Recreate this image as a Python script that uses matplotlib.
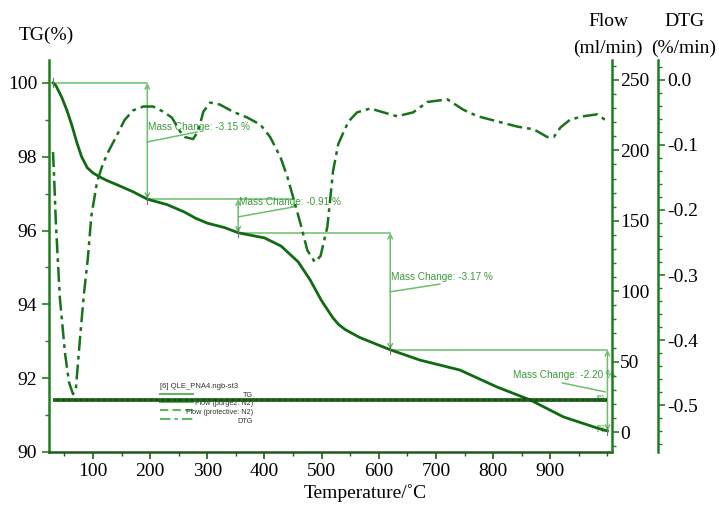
import matplotlib
matplotlib.use("Agg")
import matplotlib.pyplot as plt
from matplotlib.ticker import MultipleLocator

# ---------------- data ----------------
tg_temp = [30, 35, 45, 54, 63, 72, 80, 90, 100, 112, 125, 142, 170, 195, 230, 260,
           280, 300, 330, 354, 380, 400, 429, 459, 480, 499, 510, 520, 530, 541, 555,
           567, 599, 620, 672, 742, 807, 865, 923, 988, 1000]
tg_val = [100.0, 99.93, 99.62, 99.27, 98.85, 98.37, 98.0, 97.7, 97.56, 97.45, 97.35,
          97.24, 97.05, 96.85, 96.7, 96.5, 96.33, 96.2, 96.08, 95.94, 95.86, 95.8,
          95.58, 95.15, 94.66, 94.12, 93.86, 93.63, 93.45, 93.32, 93.2, 93.1, 92.9,
          92.77, 92.49, 92.22, 91.76, 91.41, 90.95, 90.62, 90.57]

dtg_temp = [30, 32, 35, 42, 51, 58, 65, 70, 77, 84, 91, 97, 107, 117, 127, 142, 155,
            170, 188, 205, 223, 238, 252, 261, 275, 284, 293, 305, 322, 345, 370,
            393, 410, 428, 440, 450, 463, 475, 488, 498, 510, 520, 529, 538, 547,
            562, 585, 608, 632, 660, 685, 720, 748, 773, 808, 843, 871, 895, 906,
            918, 935, 958, 982, 1000]
dtg_val = [-0.111, -0.15, -0.22, -0.335, -0.42, -0.465, -0.483, -0.475, -0.40, -0.33,
           -0.274, -0.21, -0.157, -0.13, -0.11, -0.085, -0.062, -0.047, -0.041,
           -0.041, -0.049, -0.058, -0.079, -0.088, -0.091, -0.079, -0.049, -0.035,
           -0.038, -0.049, -0.058, -0.069, -0.088, -0.119, -0.149, -0.180, -0.221,
           -0.262, -0.28, -0.271, -0.226, -0.14, -0.099, -0.081, -0.064, -0.050,
           -0.044, -0.050, -0.056, -0.050, -0.034, -0.030, -0.046, -0.056, -0.064,
           -0.072, -0.076, -0.088, -0.088, -0.073, -0.061, -0.056, -0.053, -0.064]

flow_temp = [30, 1000]
flow_purge = [22.5, 22.5]
flow_protective = [22.5, 22.5]

# mass change steps (start T, end T, start TG, end TG, label)
step_t0 = [30, 195, 354, 620]
step_t1 = [195, 354, 620, 1000]
step_tg0 = [100.0, 96.85, 95.94, 92.77]
step_tg1 = [96.85, 95.94, 92.77, 90.57]
step_labels = ["Mass Change: -3.15 %", "Mass Change: -0.91 %",
               "Mass Change: -3.17 %", "Mass Change: -2.20 %"]

x_ticks = [100, 200, 300, 400, 500, 600, 700, 800, 900]
tg_ticks = [90, 92, 94, 96, 98, 100]
flow_ticks = [0, 50, 100, 150, 200, 250]
dtg_ticks = [0.0, -0.1, -0.2, -0.3, -0.4, -0.5]

# ---------------- style ----------------
SERIF = ["Liberation Serif", "DejaVu Serif"]
SANS = ["Liberation Sans", "DejaVu Sans"]
SPINE = "#1f7f1f"
TGC = "#0f6a12"
DTGC = "#17731a"
FLOWC = "#0b4d0b"
ANN = "#6cbf6c"
ANNTXT = "#3c9a3c"

plt.rcParams["font.family"] = SERIF

fig = plt.figure(figsize=(7.19, 5.05), dpi=100)
L, R, B, T = 49 / 719, 612 / 719, 1 - 452 / 505, 1 - 60 / 505
ax = fig.add_axes([L, B, R - L, T - B])
axf = ax.twinx()
axd = ax.twinx()
axd.spines["right"].set_position(("axes", 1.0817))

for a in (ax, axf, axd):
    a.spines["top"].set_visible(False)
    a.patch.set_visible(False)
for a in (axf, axd):
    a.spines["left"].set_visible(False)
    a.spines["bottom"].set_visible(False)
ax.spines["right"].set_visible(False)
ax.spines["left"].set_color(SPINE)
ax.spines["bottom"].set_color("#1d5a1d")
axf.spines["right"].set_color(SPINE)
axd.spines["right"].set_color(SPINE)
for s in (ax.spines["left"], ax.spines["bottom"], axf.spines["right"], axd.spines["right"]):
    s.set_linewidth(1.8)

# limits
ax.set_xlim(23, 1008)
ax.set_ylim(90, 100.62)
axf.set_ylim(-14.2, 264.2)
axd.set_ylim(-0.572, 0.0305)

# ticks
ax.set_xticks(x_ticks)
ax.xaxis.set_minor_locator(MultipleLocator(50))
ax.set_yticks(tg_ticks)
ax.yaxis.set_minor_locator(MultipleLocator(1))
axf.set_yticks(flow_ticks)
axf.yaxis.set_minor_locator(MultipleLocator(10))
axd.set_yticks(dtg_ticks)
axd.set_yticklabels(["%.1f" % v for v in dtg_ticks])
axd.yaxis.set_minor_locator(MultipleLocator(0.02))

for a in (ax, axf, axd):
    a.tick_params(which="major", direction="out", length=5, width=1.2,
                  colors=SPINE, labelcolor="black", labelsize=14)
    a.tick_params(which="minor", direction="out", length=3, width=1.0, colors=SPINE)
ax.tick_params(axis="x", which="both", colors="#1d5a1d", labelcolor="black")
ax.tick_params(axis="x", pad=3)
axf.tick_params(axis="y", pad=1)
axd.tick_params(axis="y", pad=2)

# curves
axf.plot(flow_temp, flow_purge, color=FLOWC, lw=2.6, solid_capstyle="butt", zorder=3)
axf.plot(flow_temp, flow_protective, color="#1a6a1a", lw=1.4,
         linestyle=(0, (2, 1)), zorder=4)
axd.plot(dtg_temp, dtg_val, color=DTGC, lw=1.8, linestyle=(0, (6, 2, 1.5, 2)), zorder=3)
ax.plot(tg_temp, tg_val, color=TGC, lw=2.0, zorder=5)

# mass change annotations
hline_end = [195, 451, 620, 1000]
txt_pos = [(197, 98.81), (356, 96.78), (622, 94.74), (835, 92.09)]
lead_a = [(195, 98.40), (354, 96.37), (620, 94.34), (921, 91.87)]
lead_b = [(282, 98.67), (451, 96.64), (707, 94.55), (996, 91.63)]
for i in range(4):
    t0, t1, y0, y1 = step_t0[i], step_t1[i], step_tg0[i], step_tg1[i]
    ax.plot([t0, hline_end[i]], [y0, y0], color=ANN, lw=1.1, zorder=2)
    ax.annotate("", xy=(t1, y1), xytext=(t1, y0),
                arrowprops=dict(arrowstyle="<->", color=ANN, lw=1.1,
                                mutation_scale=8, shrinkA=0, shrinkB=0), zorder=2)
    ax.plot([lead_a[i][0], lead_b[i][0]], [lead_a[i][1], lead_b[i][1]],
            color=ANN, lw=1.1, zorder=2)
    ax.text(txt_pos[i][0], txt_pos[i][1], step_labels[i], family=SANS,
            fontsize=7.2, color=ANNTXT, ha="left", va="center", zorder=6)
    ax.plot([t0, t0], [y0 - 0.12, y0 + 0.12], color="#777777", lw=0.8, zorder=6)
ax.plot([1000, 1000], [90.45, 90.69], color="#777777", lw=0.8, zorder=6)

ax.text(988, 91.35, "[6]", family=SANS, fontsize=5, color=ANNTXT, ha="center", va="bottom")
ax.text(988, 90.55, "[6]", family=SANS, fontsize=5, color=ANNTXT, ha="center", va="bottom")

# legend (manual)
ax.text(0.197, 0.166, "[6] QLE_PNA4.ngb-st3", transform=ax.transAxes, family=SANS,
        fontsize=5.5, color="#333333", ha="left", va="center")
leg_names = ["TG", "Flow (purge2: N2)", "Flow (protective: N2)", "DTG"]
leg_styles = ["-", "-", (0, (4, 2)), (0, (5, 2, 1.5, 2))]
leg_y = [0.145, 0.124, 0.102, 0.079]
for name, st, yy in zip(leg_names, leg_styles, leg_y):
    ax.plot([0.197, 0.256], [yy + 0.004, yy + 0.004], transform=ax.transAxes,
            color="#5fb85f", lw=1.5, linestyle=st, zorder=2)
    ax.text(0.362, yy, name, transform=ax.transAxes, family=SANS, fontsize=5.2,
            color="#333333", ha="right", va="center")

# axis titles
fig.text(46 / 719, 1 - 35 / 505, "TG(%)", ha="center", va="center", fontsize=14)
fig.text(608 / 719, 1 - 22 / 505, "Flow", ha="center", va="center", fontsize=14)
fig.text(608 / 719, 1 - 48 / 505, "(ml/min)", ha="center", va="center", fontsize=14)
fig.text(684 / 719, 1 - 22 / 505, "DTG", ha="center", va="center", fontsize=14)
fig.text(684 / 719, 1 - 48 / 505, "(%/min)", ha="center", va="center", fontsize=14)
fig.text(365 / 719, 1 - 493 / 505, "Temperature/\u02daC", ha="center", va="center",
         fontsize=14)

fig.savefig("out.png", dpi=100)
